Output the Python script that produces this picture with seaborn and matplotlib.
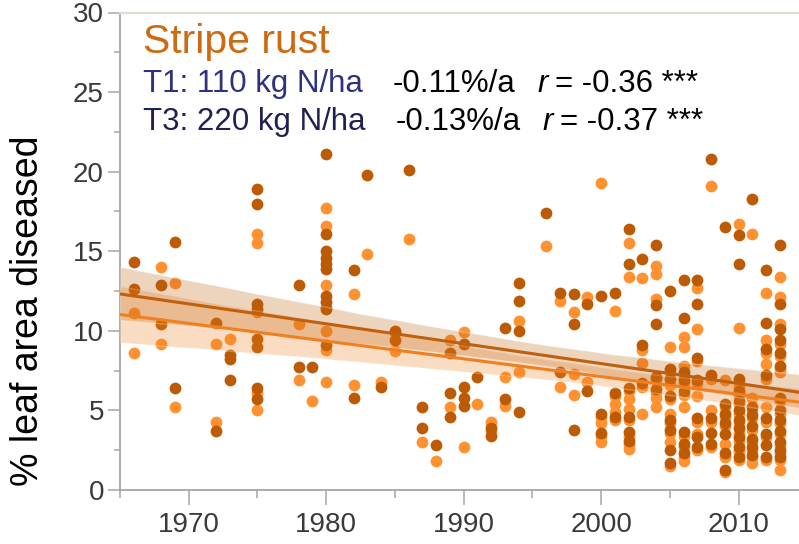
"""
Stripe rust: % leaf area diseased over time, two N levels with linear fits
"""

import matplotlib
matplotlib.use('Agg')
import matplotlib.pyplot as plt
from matplotlib.ticker import MultipleLocator
import seaborn as sns
import pandas as pd

sns.set_style('ticks')
plt.rcParams['font.family'] = ['Liberation Sans', 'DejaVu Sans']

# ============================================================================
# DATA (many T1 points sit under T3 points)
# ============================================================================
# T1: 110 kg N/ha (light orange)
t1_years = (
    [1966] * 2 + [1968] * 2 + [1969] * 2 + [1972] * 2 + [1973] + [1975] * 5 +
    [1978] * 2 + [1979] + [1980] * 7 + [1982] * 2 + [1983] + [1984] +
    [1985] * 2 + [1986] + [1987] + [1988] + [1989] * 2 + [1990] * 2 + [1991] +
    [1992] * 2 + [1993] * 2 + [1994] * 2 + [1996] + [1997] * 2 + [1998] * 3 +
    [1999] * 2 + [2000] * 5 + [2001] * 5 + [2002] * 9 + [2003] * 5 +
    [2004] * 7 + [2005] * 9 + [2006] * 11 + [2007] * 8 + [2008] * 5 +
    [2009] * 7 + [2010] * 13 + [2011] * 9 + [2012] * 9 + [2013] * 15
)
t1_values = [
    11.1, 8.6, 14.0, 9.2, 13.0, 5.2, 9.2, 4.3, 9.5,
    16.1, 15.5, 5.0, 11.2, 6.1,
    10.4, 6.9, 5.6,
    17.7, 16.6, 12.9, 10.0, 6.8, 11.5, 8.8,
    12.3, 6.6, 14.8, 6.8,
    9.9, 8.75, 15.8, 3.0, 1.8, 9.4, 5.2, 9.9, 2.7, 5.4,
    4.3, 3.7, 7.1, 5.3, 10.6, 7.4, 15.3, 11.9, 6.5, 11.2, 7.3, 6.0,
    12.1, 6.8,
    19.3, 4.2, 3.0, 4.6, 3.4,
    11.25, 5.4, 4.9, 4.4, 5.9,
    15.5, 13.4, 5.7, 5.1, 2.6, 6.2, 4.4, 3.4, 2.9,
    13.3, 8.0, 4.8, 6.5, 8.8,
    14.1, 13.6, 12.0, 5.8, 5.2, 6.1, 7.0,
    9.0, 6.6, 4.8, 3.0, 7.4, 5.7, 4.2, 3.6, 1.5,
    9.6, 9.0, 7.8, 5.2, 1.8, 7.2, 6.7, 6.0, 3.4, 2.7, 2.1,
    12.7, 10.1, 5.9, 3.5, 8.1, 6.7, 4.3, 2.5,
    19.1, 5.0, 7.0, 4.3, 2.7,
    6.9, 2.9, 5.2, 4.6, 4.0, 2.1, 1.1,
    16.7, 10.2, 6.5, 3.6, 2.4, 6.8, 6.0, 5.4, 4.8, 4.2, 3.1, 2.5, 1.9,
    16.1, 5.75, 2.1, 1.7, 5.0, 4.5, 3.8, 3.0, 2.5,
    12.4, 9.4, 7.9, 5.2, 7.0, 4.3, 3.3, 1.9, 8.6,
    13.4, 12.1, 10.4, 7.4, 1.25, 5.6, 4.8, 4.2, 3.5, 2.8, 2.3, 1.9, 7.6, 8.4, 9.2,
]

# T3: 220 kg N/ha (dark orange)
t3_years = (
    [1966] * 2 + [1968] * 2 + [1969] * 2 + [1972] * 2 + [1973] * 3 +
    [1975] * 8 + [1978] * 2 + [1979] + [1980] * 10 + [1982] * 2 + [1983] +
    [1984] + [1985] * 2 + [1986] + [1987] * 2 + [1988] + [1989] * 3 +
    [1990] * 4 + [1991] + [1992] * 2 + [1993] * 2 + [1994] * 4 + [1996] +
    [1997] * 2 + [1998] * 3 + [1999] * 2 + [2000] * 3 + [2001] * 3 +
    [2002] * 6 + [2003] * 3 + [2004] * 5 + [2005] * 8 + [2006] * 8 +
    [2007] * 7 + [2008] * 5 + [2009] * 7 + [2010] * 11 + [2011] * 7 +
    [2012] * 8 + [2013] * 13
)
t3_values = [
    14.3, 12.6, 12.9, 10.4, 15.6, 6.4, 10.5, 3.7, 8.5, 8.2, 6.9,
    18.9, 18.0, 11.7, 11.4, 9.5, 9.0, 6.4, 5.7, 12.9, 7.7, 7.7,
    21.1, 16.1, 15.0, 14.6, 14.2, 13.9, 12.2, 11.8, 11.4, 9.1, 13.8, 5.8, 19.8,
    6.5, 10.0, 9.4, 20.1, 5.2, 3.9, 2.85, 8.6, 6.1, 4.6,
    9.2, 6.5, 5.8, 5.3, 7.1, 3.9, 3.4, 10.2, 5.7, 13.0, 11.9, 10.0, 4.9, 17.4,
    12.4, 7.4, 12.3, 10.4, 3.75, 11.7, 6.25, 12.2, 4.8, 3.6, 12.4, 6.1, 4.6,
    16.4, 14.2, 6.4, 4.6, 3.65, 3.1, 14.5, 9.1, 6.7, 15.4, 11.6, 10.4, 7.1, 6.35,
    12.5, 7.6, 7.0, 5.9, 4.4, 3.75, 1.7, 2.5,
    13.2, 10.8, 7.4, 6.9, 6.25, 3.65, 2.9, 2.3,
    13.2, 11.7, 8.3, 6.9, 4.5, 2.7, 3.3,
    20.8, 7.2, 4.5, 2.9, 3.6,
    16.5, 5.4, 4.8, 4.2, 2.3, 1.25, 3.5,
    16.0, 14.2, 7.0, 6.2, 5.6, 5.0, 4.4, 3.9, 3.3, 2.7, 2.1,
    18.3, 5.2, 4.7, 4.0, 3.2, 2.7, 2.2,
    13.8, 10.5, 8.85, 7.2, 4.5, 3.5, 2.1, 2.8,
    15.4, 11.7, 10.1, 9.4, 8.6, 7.8, 5.8, 5.0, 4.4, 3.7, 3.0, 2.5, 2.1,
]

t1 = pd.DataFrame({'year': t1_years, 'diseased': t1_values})
t3 = pd.DataFrame({'year': t3_years, 'diseased': t3_values})

light_pt = '#FF9131'
dark_pt = '#BD5A04'
light_line = '#F0801E'
dark_line = '#C0600C'

# ============================================================================
# PLOT
# ============================================================================
fig = plt.figure(figsize=(7.99, 5.44), dpi=100)
ax = fig.add_axes([120 / 799, 1 - 490 / 544, 1 - 120 / 799, (490 - 12.5) / 544])
ax.set_xlim(1965, 2014.4)
ax.set_ylim(0, 30)

# points first, so the fit bands sit over them
sns.scatterplot(data=t1, x='year', y='diseased', color=light_pt, s=72,
                linewidth=0, ax=ax, zorder=2)
sns.scatterplot(data=t3, x='year', y='diseased', color=dark_pt, s=72,
                linewidth=0, ax=ax, zorder=2)

n_before = len(ax.collections)
sns.regplot(data=t1, x='year', y='diseased', scatter=False, truncate=False,
            color=light_line, line_kws={'linewidth': 2.2, 'zorder': 4},
            seed=1, ax=ax)
sns.regplot(data=t3, x='year', y='diseased', scatter=False, truncate=False,
            color=dark_line, line_kws={'linewidth': 2.2, 'zorder': 4},
            seed=1, ax=ax)
for band in ax.collections[n_before:]:
    band.set_alpha(0.27)
    band.set_zorder(3)

ax.set_xlim(1965, 2014.4)
ax.set_ylim(0, 30)

# axes styling
ax.xaxis.set_major_locator(MultipleLocator(10))
ax.xaxis.set_minor_locator(MultipleLocator(5))
ax.yaxis.set_major_locator(MultipleLocator(5))
ax.yaxis.set_minor_locator(MultipleLocator(2.5))
ax.tick_params(axis='x', which='major', length=10.8, width=1.1, color='#A5A5A5',
               labelsize=20, labelcolor='#3A3A3A', pad=5)
ax.tick_params(axis='x', which='minor', length=5.8, width=1.1, color='#A5A5A5')
ax.tick_params(axis='y', which='major', length=8.6, width=1.1, color='#A5A5A5',
               labelsize=20, labelcolor='#3A3A3A', pad=3)
ax.tick_params(axis='y', which='minor', length=4.5, width=1.1, color='#A5A5A5')
for side in ['left', 'bottom']:
    ax.spines[side].set_color('#A5A5A5')
    ax.spines[side].set_linewidth(1.3)
ax.spines['top'].set_color('#DCDCD4')
ax.spines['top'].set_linewidth(1.6)
ax.spines['right'].set_visible(False)

ax.set_xlabel('')
ax.set_ylabel('')
fig.text(28 / 799, 1 - 311 / 544, '% leaf area diseased', rotation=90,
         fontsize=27, ha='center', va='center', color='black')

# annotation block
fig.text(143 / 799, 1 - 53 / 544, 'Stripe rust', fontsize=29.5,
         color='#CD6A12', ha='left', va='baseline')
fig.text(143 / 799, 1 - 92 / 544, 'T1: 110 kg N/ha', fontsize=22.5,
         color='#2E3080', ha='left', va='baseline')
fig.text(143 / 799, 1 - 130 / 544, 'T3: 220 kg N/ha', fontsize=22.5,
         color='#1F2152', ha='left', va='baseline')

stats_rows = [
    (92, 393, 537, 555, '-0.11%/a', '= -0.36 ***'),
    (130, 396, 542, 560, '-0.13%/a', '= -0.37 ***'),
]
for y_px, x_slope, x_r, x_eq, slope_txt, r_txt in stats_rows:
    fig.text(x_slope / 799, 1 - y_px / 544, slope_txt, fontsize=22.5,
             color='black', ha='left', va='baseline')
    fig.text(x_r / 799, 1 - y_px / 544, 'r', fontsize=22.5, style='italic',
             color='black', ha='left', va='baseline')
    fig.text(x_eq / 799, 1 - y_px / 544, r_txt, fontsize=22.5,
             color='black', ha='left', va='baseline')

plt.savefig('out.png', dpi=100)
plt.close()
